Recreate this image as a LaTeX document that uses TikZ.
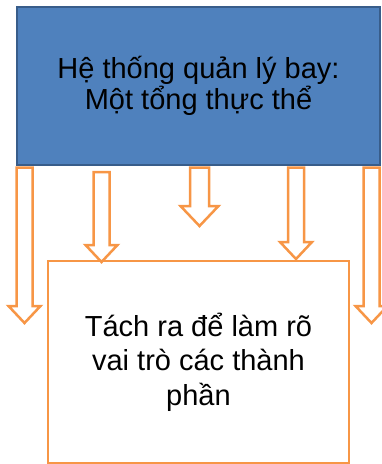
\documentclass[tikz,border=0pt]{standalone}
\usepackage{fontspec}
\setmainfont{Liberation Sans}
\usetikzlibrary{calc}
\definecolor{boxblue}{HTML}{4F81BD}
\definecolor{boxedge}{HTML}{385D8A}
\definecolor{arroworange}{HTML}{F79646}
% hollow block arrow: start, tip, half shaft width
\newcommand{\hollowarrow}[3]{%
  \draw[arrowdecorate] let \p1=(#1), \p2=(#2) in
    (\x2-#3,\y1) -- (\x2-#3,\y2+2*#3+1pt) -- (\x2-2*#3,\y2+2*#3+1pt)
    -- (\x2,\y2) -- (\x2+2*#3,\y2+2*#3+1pt) -- (\x2+#3,\y2+2*#3+1pt)
    -- (\x2+#3,\y1) -- cycle;}
\begin{document}
\begin{tikzpicture}
[x=1pt,y=-1pt,
  wholedecorate/.style={draw=boxedge,fill=boxblue,line width=2pt,
    minimum width=363pt,minimum height=158pt,align=center,
    font=\fontsize{29}{31}\selectfont},%
  partdecorate/.style={draw=arroworange,fill=white,line width=2.5pt,
    minimum width=301pt,minimum height=202pt,align=center,
    font=\fontsize{29}{34.5}\selectfont},%
  arrowdecorate/.style={draw=arroworange,fill=white,line width=2.5pt,line join=miter}]
\useasboundingbox (0,0) rectangle (381,464);
%%% the whole system and its parts
% boxes
\node (whole) at (198.5,86) [wholedecorate] {Hệ thống quản lý bay:\\Một tổng thực thể};
\node (parts) at (198.5,362) [partdecorate] {Tách ra để làm rõ\\vai trò các thành\\phần};
% arrow tips
\coordinate (e1) at (24.5,323);
\coordinate (e2) at (101.5,262);
\coordinate (e3) at (199.5,226);
\coordinate (e4) at (296,259);
\coordinate (e5) at (371.5,323);
% block arrows
\hollowarrow{[yshift=-1.5pt]whole.south -| e1}{e1}{8pt}
\hollowarrow{[yshift=-6pt]whole.south -| e2}{e2}{8pt}
\hollowarrow{[yshift=-1.5pt]whole.south -| e3}{e3}{9.5pt}
\hollowarrow{[yshift=-1.5pt]whole.south -| e4}{e4}{8pt}
\hollowarrow{[yshift=-1.5pt]whole.south -| e5}{e5}{8pt}
\end{tikzpicture}
\end{document}
